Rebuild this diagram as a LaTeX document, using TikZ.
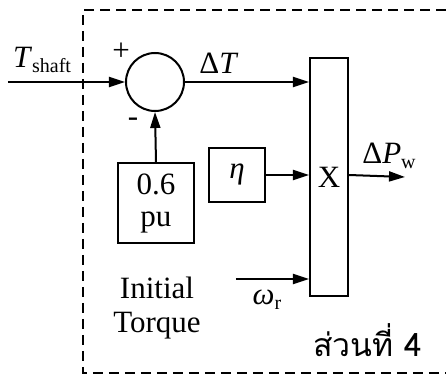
\documentclass[tikz,border=0pt]{standalone}
\usepackage{fontspec}
\setmainfont{Liberation Serif}
\newfontfamily\thaifont[Script=Thai]{Loma}
\usetikzlibrary{arrows.meta}
\tikzset{
  blk/.style={draw, line width=1pt, inner sep=0pt},
  sumc/.style={draw, circle, line width=1pt, minimum size=29pt, inner sep=0pt},
  sig/.style={line width=1pt, -{Triangle[length=8pt,width=5pt]}},
  lbl/.style={inner sep=0pt},
  frame/.style={line width=0.7pt, dash pattern=on 5pt off 3pt}
}
\newcommand{\subtx}[1]{\raisebox{-0.35ex}{\fontsize{10}{12}\selectfont #1}}
\begin{document}
\begin{tikzpicture}[x=0.5pt,y=-0.5pt]
\fontsize{15.5}{18}\selectfont
\useasboundingbox (0,0) rectangle (446,380);
\draw[frame] (446,10) -- (83,10) -- (83,373) -- (446,373);
\node[sumc] (sum) at (155,82) {};
\node[blk, minimum width=19pt, minimum height=119pt] (X) at (329,177) {X};
\node[blk, minimum width=38pt, minimum height=40pt, align=center] (pu) at (156,203) {0.6\\[-2pt]pu};
\node[blk, minimum width=28pt, minimum height=27pt] (eta) at (237,175) {\itshape η};
\coordinate (tin) at (8,82);
\coordinate (pout) at (405,177);
\coordinate (win) at (236,279);
\draw[sig] (tin) -- (sum.west);
\draw[sig] (sum.east) -- (X.west |- sum.east);
\draw[sig] (pu.north) -- (sum.south);
\draw[sig] (eta.east) -- (X.west |- eta.east);
\draw[sig] (X.east |- eta.east) -- (pout);
\draw[sig] (win) -- (X.west |- win);
\node[lbl] (tshaft) at (42,60) {\textit{T}\subtx{shaft}};
\node[lbl] (plus) at (121,52) {+};
\node[lbl] (minus) at (133,122) {-};
\node[lbl] (dT) at (219,63) {Δ\textit{T}};
\node[lbl] (dP) at (389,156) {Δ\textit{P}\subtx{w}};
\node[lbl] (wr) at (267,300) {\textit{ω}\subtx{r}};
\node[lbl, align=center, font=\fontsize{15.5}{17}\selectfont] (it) at (157,308) {Initial\\Torque};
\node[lbl, anchor=base] (part) at (368,357) {\thaifont\fontsize{16}{19}\selectfont ส่วนที่ 4};
\end{tikzpicture}
\end{document}
